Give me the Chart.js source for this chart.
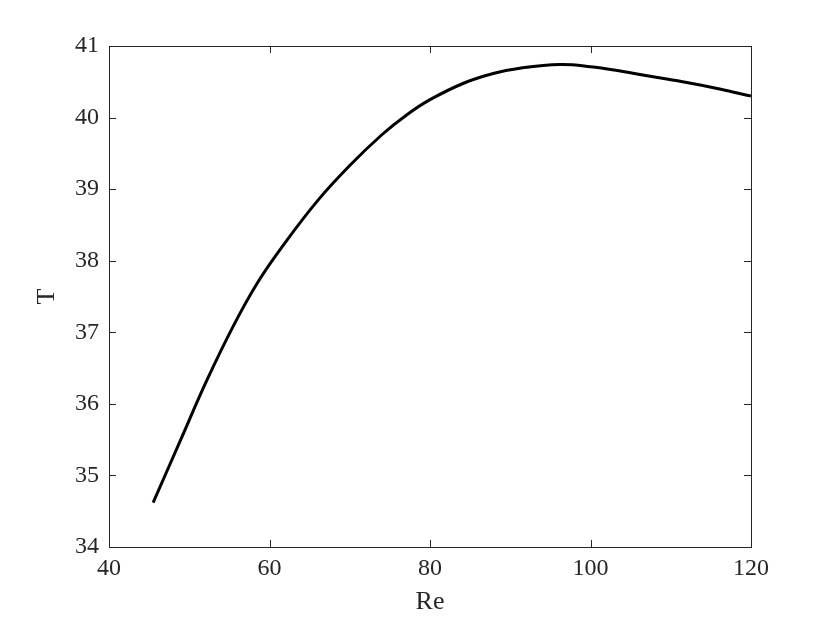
<!DOCTYPE html>
<html>
<head>
<meta charset="utf-8">
<script src="https://cdn.jsdelivr.net/npm/chart.js@4/dist/chart.umd.min.js"></script>
<style>
  html, body { margin: 0; padding: 0; background: #fff; }
  #wrap { width: 830px; height: 623px; }
</style>
</head>
<body>
<div id="wrap"><canvas id="c" width="830" height="623"></canvas></div>
<script>
// values
const re = [45.5, 48.9, 52.2, 55.5, 58.6, 62.0, 66.0, 70.0, 74.0, 77.0, 80.0, 84.4, 88.0, 91.2, 96.2, 100, 103.7, 107.8, 112, 116.1, 120];
const T = [34.62, 35.49, 36.33, 37.09, 37.71, 38.26, 38.84, 39.33, 39.76, 40.03, 40.25, 40.49, 40.62, 40.69, 40.74, 40.71, 40.65, 40.57, 40.49, 40.40, 40.30];
const xTicks = [40, 60, 80, 100, 120];
const yTicks = [34, 35, 36, 37, 38, 39, 40, 41];

const axisColor = "#262626";
const fontFam = "'Liberation Serif', 'DejaVu Serif', serif";

// box + inward ticks on all four sides
const boxTicks = {
  id: "boxTicks",
  afterDraw(chart) {
    const ctx = chart.ctx;
    const a = chart.chartArea;
    const xs = chart.scales.x, ys = chart.scales.y;
    const len = 7;
    ctx.save();
    ctx.strokeStyle = axisColor;
    ctx.lineWidth = 1;
    ctx.strokeRect(a.left + 0.5, a.top + 0.5, a.right - a.left, a.bottom - a.top);
    ctx.beginPath();
    xTicks.forEach(v => {
      const px = Math.round(xs.getPixelForValue(v)) + 0.5;
      ctx.moveTo(px, a.bottom); ctx.lineTo(px, a.bottom - len);
      ctx.moveTo(px, a.top); ctx.lineTo(px, a.top + len);
    });
    yTicks.forEach(v => {
      const py = Math.round(ys.getPixelForValue(v)) + 0.5;
      ctx.moveTo(a.left, py); ctx.lineTo(a.left + len, py);
      ctx.moveTo(a.right, py); ctx.lineTo(a.right - len, py);
    });
    ctx.stroke();
    ctx.restore();
  }
};

new Chart(document.getElementById("c"), {
  type: "line",
  data: {
    datasets: [{
      data: re.map((x, i) => ({ x: x, y: T[i] })),
      borderColor: "#000",
      borderWidth: 3,
      pointRadius: 0,
      tension: 0.4,
      fill: false
    }]
  },
  options: {
    responsive: false,
    animation: false,
    layout: { padding: { top: 46, right: 79, left: 0, bottom: 0 } },
    plugins: { legend: { display: false }, tooltip: { enabled: false } },
    scales: {
      x: {
        type: "linear",
        min: 40, max: 120,
        afterBuildTicks: s => { s.ticks = xTicks.map(v => ({ value: v })); },
        afterFit: s => { s.height = 76; },
        grid: { display: false, drawTicks: false },
        border: { display: false },
        ticks: { color: axisColor, padding: 7, maxRotation: 0, font: { family: fontFam, size: 24 } },
        title: { display: true, text: "Re", color: axisColor, padding: { top: 0, bottom: 5 }, font: { family: fontFam, size: 26 } }
      },
      y: {
        type: "linear",
        min: 34, max: 41,
        afterBuildTicks: s => { s.ticks = yTicks.map(v => ({ value: v })); },
        afterFit: s => { s.width = 109; },
        grid: { display: false, drawTicks: false },
        border: { display: false },
        ticks: { color: axisColor, padding: 10, font: { family: fontFam, size: 24 } },
        title: { display: true, text: "T", color: axisColor, padding: { top: 32, bottom: 0 }, font: { family: fontFam, size: 26 } }
      }
    }
  },
  plugins: [boxTicks]
});
</script>
</body>
</html>
